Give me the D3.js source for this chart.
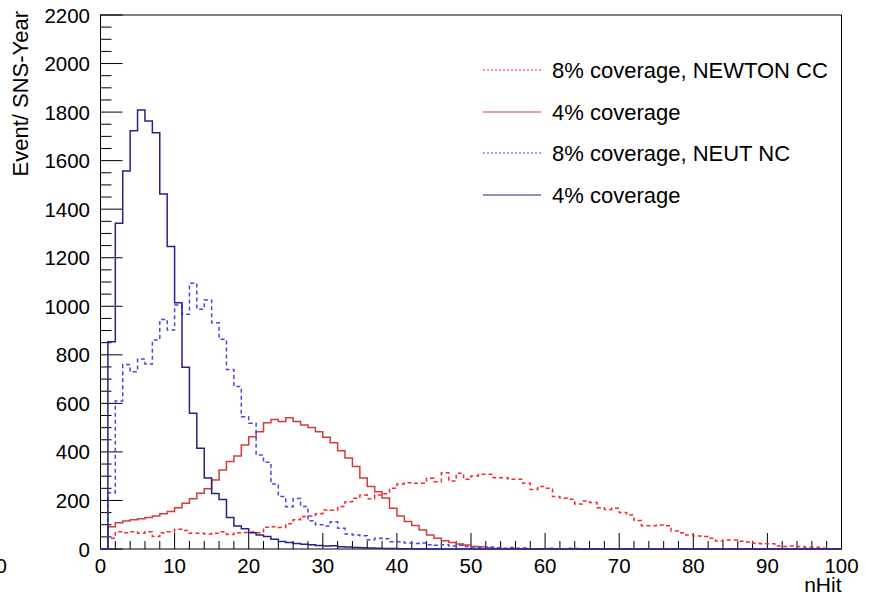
<!DOCTYPE html>
<html>
<head>
<meta charset="utf-8">
<script src="https://cdn.jsdelivr.net/npm/d3@7"></script>
<style>
body { margin: 0; background: #fff; }
text { font-family: "Liberation Sans", Arial, Helvetica, sans-serif; fill: #000; }
</style>
</head>
<body>
<svg id="chart" width="870" height="595"></svg>
<script>
// nHit bins 0..99, width 1
var binEdges = d3.range(0, 101);

var newtonCC8 = [0, 44, 71, 67, 71, 65, 71, 51, 67, 71, 81, 76, 65, 65, 62, 65, 71, 60, 67, 68,
	70, 67, 90, 92, 89, 104, 120, 134, 136, 145, 161, 160, 175, 195, 209, 222, 207, 222, 228, 250,
	268, 273, 271, 271, 291, 277, 314, 280, 312, 287, 301, 308, 308, 294, 294, 287, 287, 271, 245, 257,
	250, 216, 209, 205, 185, 198, 192, 170, 163, 168, 150, 140, 117, 96, 96, 99, 96, 74, 67, 58,
	54, 51, 44, 33, 37, 37, 32, 29, 24, 22, 22, 12, 10, 12, 10, 7, 7, 3, 0, 0];

var cc4 = [0, 92, 108, 115, 120, 125, 130, 136, 145, 155, 170, 188, 207, 230, 248, 284, 325, 360, 383, 428,
	462, 483, 520, 534, 525, 541, 525, 511, 501, 483, 460, 438, 405, 375, 340, 293, 258, 236, 210, 168,
	136, 113, 97, 78, 58, 44, 34, 27, 21, 16, 10, 9, 5, 2, 0, 0, 0, 0, 0, 0,
	0, 0, 0, 0, 0, 0, 0, 0, 0, 0, 0, 0, 0, 0, 0, 0, 0, 0, 0, 0,
	0, 0, 0, 0, 0, 0, 0, 0, 0, 0, 0, 0, 0, 0, 0, 0, 0, 0, 0, 0];

var neutNC8 = [0, 232, 610, 760, 730, 783, 762, 861, 946, 902, 1005, 967, 1095, 988, 1026, 932, 864, 740, 669, 545,
	518, 387, 357, 268, 216, 174, 208, 175, 116, 100, 95, 112, 85, 62, 58, 55, 38, 44, 42, 30,
	30, 25, 23, 25, 18, 15, 18, 12, 15, 10, 8, 5, 8, 5, 3, 6, 3, 4, 1, 0,
	3, 1, 0, 3, 2, 0, 0, 0, 0, 0, 0, 0, 0, 0, 0, 0, 0, 0, 0, 0,
	0, 0, 0, 0, 0, 0, 0, 0, 0, 0, 0, 0, 0, 0, 0, 0, 0, 0, 0, 0];

var nc4 = [0, 854, 1342, 1557, 1723, 1809, 1763, 1715, 1463, 1246, 1015, 749, 559, 415, 293, 229, 204, 130, 95, 83,
	67, 58, 51, 40, 31, 27, 23, 20, 17, 14, 12, 13, 9, 8, 6, 5, 4, 3, 2, 2,
	1, 1, 0, 0, 0, 0, 0, 0, 0, 0, 0, 0, 0, 0, 0, 0, 0, 0, 0, 0,
	0, 0, 0, 0, 0, 0, 0, 0, 0, 0, 0, 0, 0, 0, 0, 0, 0, 0, 0, 0,
	0, 0, 0, 0, 0, 0, 0, 0, 0, 0, 0, 0, 0, 0, 0, 0, 0, 0, 0, 0];

var seriesNames = ["8% coverage, NEWTON CC", "4% coverage", "8% coverage, NEUT NC", "4% coverage"];
var seriesColors = ["#f22a2a", "#d23c3c", "#4848dc", "#23238a"];
var seriesDash = ["4,3", null, "4,3", null];
var seriesData = [newtonCC8, cc4, neutNC8, nc4];

var xTicks = d3.range(0, 101, 10);
var yTicks = d3.range(0, 2201, 200);

var svg = d3.select("#chart");
var frameL = 100.5, frameR = 841.5, frameT = 15, frameB = 549;

var x = d3.scaleLinear().domain([0, 100]).range([frameL, frameR]);
var y = d3.scaleLinear().domain([0, 2200]).range([frameB, frameT]);

// frame
svg.append("rect")
	.attr("x", frameL).attr("y", frameT)
	.attr("width", frameR - frameL).attr("height", frameB - frameT)
	.attr("fill", "none").attr("stroke", "#000").attr("stroke-width", 1);

// x ticks (inside, ROOT style)
var xMinor = d3.range(0, 101, 2);
svg.append("g").selectAll("line")
	.data(xMinor)
	.enter()
	.append("line")
	.attr("x1", function(d) { return x(d); })
	.attr("x2", function(d) { return x(d); })
	.attr("y1", frameB)
	.attr("y2", function(d) { return d % 10 === 0 ? frameB - 16 : frameB - 8; })
	.attr("stroke", "#000");

svg.append("g").selectAll("text")
	.data(xTicks)
	.enter()
	.append("text")
	.attr("x", function(d) { return x(d); })
	.attr("y", 573)
	.attr("text-anchor", "middle")
	.style("font-size", "20.5px")
	.text(function(d) { return d; });

// y ticks
var yMinor = d3.range(0, 2201, 50);
svg.append("g").selectAll("line")
	.data(yMinor)
	.enter()
	.append("line")
	.attr("x1", frameL)
	.attr("x2", function(d) { return d % 200 === 0 ? frameL + 22 : frameL + 11; })
	.attr("y1", function(d) { return y(d); })
	.attr("y2", function(d) { return y(d); })
	.attr("stroke", "#000");

svg.append("g").selectAll("text")
	.data(yTicks)
	.enter()
	.append("text")
	.attr("x", 90)
	.attr("y", function(d) { return y(d) + 7.5; })
	.attr("text-anchor", "end")
	.style("font-size", "20.5px")
	.text(function(d) { return d; });

// stray label at the pad edge
svg.append("text")
	.attr("x", 7).attr("y", 573)
	.attr("text-anchor", "end")
	.style("font-size", "20.5px")
	.text("0");

// axis titles
svg.append("text")
	.attr("x", frameR).attr("y", 592)
	.attr("text-anchor", "end")
	.style("font-size", "21px")
	.text("nHit");

svg.append("text")
	.attr("transform", "translate(28,11) rotate(-90)")
	.attr("text-anchor", "end")
	.style("font-size", "22px")
	.text("Event/ SNS-Year");

// histograms as step outlines
function stepPoints(vals) {
	var pts = [[binEdges[0], 0]];
	vals.forEach(function(v, i) {
		pts.push([binEdges[i], v]);
		pts.push([binEdges[i + 1], v]);
	});
	pts.push([binEdges[binEdges.length - 1], 0]);
	return pts;
}

var line = d3.line()
	.x(function(d) { return x(d[0]); })
	.y(function(d) { return y(d[1]); });

seriesData.forEach(function(vals, k) {
	svg.append("path")
		.attr("d", line(stepPoints(vals)))
		.attr("fill", "none")
		.attr("stroke", seriesColors[k])
		.attr("stroke-width", 1.5)
		.attr("stroke-dasharray", seriesDash[k]);
});

// legend
var legRows = [70, 112, 153, 195];
var leg = svg.append("g").selectAll("g")
	.data(seriesNames)
	.enter()
	.append("g");

leg.append("line")
	.attr("x1", 483).attr("x2", 541)
	.attr("y1", function(d, i) { return legRows[i]; })
	.attr("y2", function(d, i) { return legRows[i]; })
	.attr("stroke", function(d, i) { return seriesColors[i]; })
	.attr("stroke-width", 1.2)
	.attr("stroke-dasharray", function(d, i) { return seriesDash[i] ? "2,2" : null; });

leg.append("text")
	.attr("x", 552)
	.attr("y", function(d, i) { return legRows[i] + 8; })
	.style("font-size", "22px")
	.text(function(d) { return d; });
</script>
</body>
</html>
